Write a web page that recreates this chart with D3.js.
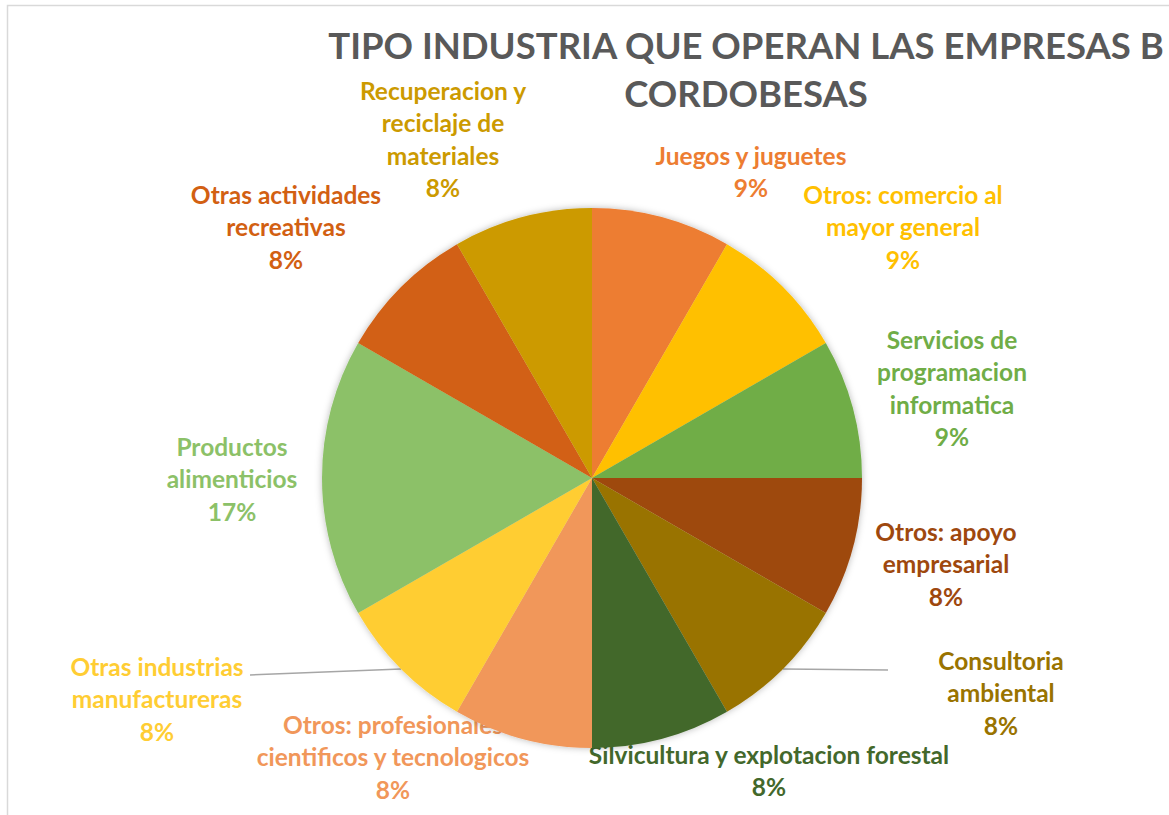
<!DOCTYPE html>
<html>
<head>
<meta charset="utf-8">
<script src="https://cdn.jsdelivr.net/npm/d3@7"></script>
<style>
  html, body { margin: 0; padding: 0; background: #ffffff; overflow: hidden; }
  svg { display: block; }
  text { font-family: "Lato", "Open Sans", sans-serif; font-weight: 700; }
</style>
</head>
<body>
<svg id="chart" width="1169" height="815"></svg>
<script>
// ---------- data ----------
const categories = [
  "Juegos y juguetes",
  "Otros: comercio al mayor general",
  "Servicios de programacion informatica",
  "Otros: apoyo empresarial",
  "Consultoria ambiental",
  "Silvicultura y explotacion forestal",
  "Otros: profesionales cientificos y tecnologicos",
  "Otras industrias manufactureras",
  "Productos alimenticios",
  "Otras actividades recreativas",
  "Recuperacion y reciclaje de materiales"
];
const counts = [1, 1, 1, 1, 1, 1, 1, 1, 2, 1, 1];
const percentLabels = ["9%", "9%", "9%", "8%", "8%", "8%", "8%", "8%", "17%", "8%", "8%"];
const labelLines = [
  ["Juegos y juguetes"],
  ["Otros: comercio al", "mayor general"],
  ["Servicios de", "programacion", "informatica"],
  ["Otros: apoyo", "empresarial"],
  ["Consultoria", "ambiental"],
  ["Silvicultura y explotacion forestal"],
  ["Otros: profesionales", "cientificos y tecnologicos"],
  ["Otras industrias", "manufactureras"],
  ["Productos", "alimenticios"],
  ["Otras actividades", "recreativas"],
  ["Recuperacion y", "reciclaje de", "materiales"]
];
const titleLines = ["TIPO INDUSTRIA QUE OPERAN LAS EMPRESAS B", "CORDOBESAS"];

// ---------- styling / layout ----------
const colors = ["#ED7D31", "#FFC000", "#70AD47", "#9E480E", "#997300", "#43682B",
                "#F1975A", "#FFCD33", "#8CC168", "#D26012", "#CC9A00"];
const cx = 592, cy = 478, R = 270;
const lineH = 32.5;
// label center (x) and first line center (y), relative to pie center
const labelPos = [
  [159, -322], [311, -283], [360, -138], [354, 54], [409, 183], [177, 277],
  [-199, 247], [-435, 189], [-360, -31], [-306, -283], [-149, -387]
];
// leader line end points (relative to pie center), null when none
const leaderEnd = [null, null, null, null, [296, 192], null, null, [-342, 197], null, null, null];

const svg = d3.select("#chart");

// frame
svg.append("path")
  .attr("d", "M7.5,815 L7.5,5.5 L1169,5.5")
  .attr("fill", "none").attr("stroke", "#d9d9d9").attr("stroke-width", 1.5);

// shadow filter
const defs = svg.append("defs");
const f = defs.append("filter").attr("id", "sh").attr("x", "-20%").attr("y", "-20%").attr("width", "140%").attr("height", "140%");
f.append("feDropShadow").attr("dx", 0).attr("dy", 0).attr("stdDeviation", 3.5)
  .attr("flood-color", "#000").attr("flood-opacity", 0.28);

// title
const title = svg.append("text").attr("text-anchor", "middle")
  .attr("fill", "#595959").style("font-size", "36.5px");
titleLines.forEach((t, i) => {
  title.append("tspan").attr("x", 746).attr("y", 59 + i * 48).text(t);
});

const g = svg.append("g").attr("transform", `translate(${cx},${cy})`);

const pie = d3.pie().sort(null).value(d => d).startAngle(0).endAngle(2 * Math.PI);
const arcs = pie(counts);
const arc = d3.arc().innerRadius(0).outerRadius(R);

// labels (drawn beneath the pie, as in the reference)
const labelG = g.append("g");
arcs.forEach((a, i) => {
  const [lx, ly] = labelPos[i];
  const lines = labelLines[i].concat([percentLabels[i]]);
  const t = labelG.append("text").attr("text-anchor", "middle")
    .attr("fill", colors[i]).style("font-size", "24.5px");
  lines.forEach((ln, j) => {
    t.append("tspan").attr("x", lx).attr("y", ly + j * lineH).attr("dy", "0.35em").text(ln);
  });
});

// leader lines
arcs.forEach((a, i) => {
  if (!leaderEnd[i]) return;
  const mid = (a.startAngle + a.endAngle) / 2;
  const sx = R * Math.sin(mid), sy = -R * Math.cos(mid);
  g.append("line")
    .attr("x1", sx).attr("y1", sy)
    .attr("x2", leaderEnd[i][0]).attr("y2", leaderEnd[i][1])
    .attr("stroke", "#a6a6a6").attr("stroke-width", 1.5);
});

// slices
g.append("g").attr("filter", "url(#sh)")
  .selectAll("path").data(arcs).join("path")
  .attr("d", arc)
  .attr("fill", (d, i) => colors[i]);
</script>
</body>
</html>
